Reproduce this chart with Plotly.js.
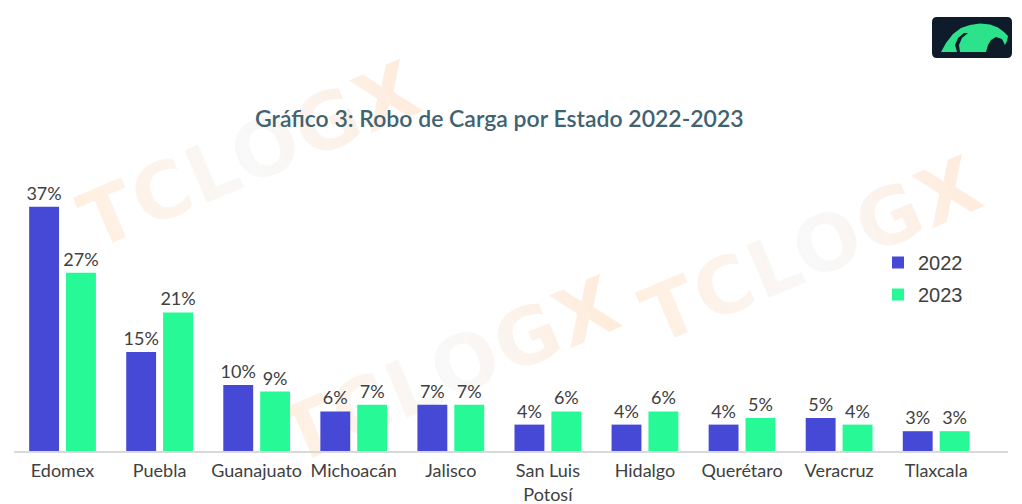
<!DOCTYPE html>
<html>
<head>
<meta charset="utf-8">
<script src="https://cdn.plot.ly/plotly-3.0.1.min.js"></script>
<style>
html,body{margin:0;padding:0;background:#fff;}
#wrap{position:relative;width:1022px;height:504px;overflow:hidden;}
#chart{position:absolute;left:0;top:0;width:1022px;height:504px;}
.wm{position:absolute;font-family:"DejaVu Sans",sans-serif;font-weight:bold;font-size:78px;letter-spacing:2px;
    transform-origin:center center;white-space:nowrap;
    background:linear-gradient(90deg, rgba(255,175,100,0.20), rgba(215,215,215,0.16) 50%, rgba(255,165,90,0.22));
    -webkit-background-clip:text;background-clip:text;-webkit-text-fill-color:transparent;}
</style>
</head>
<body>
<div id="wrap">
<div class="wm" id="wm1">TCLOGX</div>
<div class="wm" id="wm2">TCLOGX</div>
<div class="wm" id="wm3">TCLOGX</div>
<div id="chart"></div>
</div>
<script>
const states = ['Edomex','Puebla','Guanajuato','Michoacán','Jalisco','San Luis<br>Potosí','Hidalgo','Querétaro','Veracruz','Tlaxcala'];
const v2022 = [37,15,10,6,7,4,4,4,5,3];
const v2023 = [27,21,9,7,7,6,6,5,4,3];
const seriesNames = ['2022','2023'];
const titleText = 'Gráfico 3: Robo de Carga por Estado 2022-2023';

const W = 1022, H = 504;
const L = 14, R = 1008, T = 160, B = 451;
const px = x => (x - L) / (R - L);
const py = y => (B - y) / (B - T);
const pathFrom = pts => pts.map((p, i) => (i ? 'L' : 'M') + px(p[0]).toFixed(5) + ',' + py(p[1]).toFixed(5)).join(' ') + ' Z';

// watermark placement (decorative background text)
[['wm1', 250, 155], ['wm2', 450, 370], ['wm3', 812, 250]].forEach(([id, cx, cy]) => {
  const el = document.getElementById(id);
  const w = el.offsetWidth, h = el.offsetHeight;
  el.style.left = (cx - w / 2) + 'px';
  el.style.top = (cy - h / 2) + 'px';
  el.style.transform = 'rotate(-23deg)';
});

const blue = '#4549D6', green = '#26F996', txt = '#404040';
const labelFont = {family: 'Lato, "Open Sans", sans-serif', size: 18, color: txt};

const traces = [
  {type: 'bar', name: seriesNames[0], x: states, y: v2022, marker: {color: blue},
   texttemplate: '%{y}%', textposition: 'outside', textfont: labelFont, cliponaxis: false, constraintext: 'none',
   legendgroup: 'a', hoverinfo: 'skip'},
  {type: 'bar', name: seriesNames[1], x: states, y: v2023, marker: {color: green},
   texttemplate: '%{y}%', textposition: 'outside', textfont: labelFont, cliponaxis: false, constraintext: 'none',
   legendgroup: 'b', hoverinfo: 'skip'}
];

const annotations = [
  {text: titleText, xref: 'paper', yref: 'paper', x: px(499), y: py(118), xanchor: 'center', yanchor: 'middle',
   showarrow: false, font: {family: 'Lato, sans-serif', size: 23, color: '#3F6370', weight: 600}}
];

const r = 5, x0 = 932, x1 = 1012, y0 = 17, y1 = 58;
const logoRect = 'M' + px(x0 + r) + ',' + py(y0) + ' L' + px(x1 - r) + ',' + py(y0) +
  ' Q' + px(x1) + ',' + py(y0) + ' ' + px(x1) + ',' + py(y0 + r) +
  ' L' + px(x1) + ',' + py(y1 - r) + ' Q' + px(x1) + ',' + py(y1) + ' ' + px(x1 - r) + ',' + py(y1) +
  ' L' + px(x0 + r) + ',' + py(y1) + ' Q' + px(x0) + ',' + py(y1) + ' ' + px(x0) + ',' + py(y1 - r) +
  ' L' + px(x0) + ',' + py(y0 + r) + ' Q' + px(x0) + ',' + py(y0) + ' ' + px(x0 + r) + ',' + py(y0) + ' Z';
const eagle = pathFrom([[941,52],[946,43],[953,34],[961,28],[970,25],[980,23.5],[990,24.5],[998,27.5],[1004,32],[1008,36],[1007,41],[1005,45],[1002,39],[996,37],[991,40],[988,45],[986,52]]);
const eagleCut = pathFrom([[964,33],[958,38],[955,45],[957,52],[960,52],[959,45],[962,38],[968,33]]);

const shapes = [
  {type: 'path', xref: 'paper', yref: 'paper', path: logoRect, fillcolor: '#0E1B2B', line: {width: 0}},
  {type: 'path', xref: 'paper', yref: 'paper', path: eagle, fillcolor: '#2CE38C', line: {width: 0}},
  {type: 'path', xref: 'paper', yref: 'paper', path: eagleCut, fillcolor: '#0E1B2B', line: {width: 0}}
];

const layout = {
  width: W, height: H,
  margin: {l: L, r: W - R, t: T, b: H - B, pad: 0},
  paper_bgcolor: 'rgba(0,0,0,0)', plot_bgcolor: 'rgba(0,0,0,0)',
  barmode: 'group', bargap: 0.24, bargroupgap: 0.19,
  showlegend: true,
  legend: {x: px(878), y: py(243), xanchor: 'left', yanchor: 'top', bgcolor: 'rgba(0,0,0,0)',
           font: {family: '"Liberation Sans", Arial, sans-serif', size: 20, color: txt},
           traceorder: 'grouped', tracegroupgap: 3},
  xaxis: {type: 'category', range: [-0.5, 9.74], showgrid: false, zeroline: false,
          showline: true, linecolor: '#D9D9D9', linewidth: 1.5, ticks: '', tickfont: labelFont,
          ticklabelstandoff: 3, fixedrange: true},
  yaxis: {range: [0, 44.1], visible: false, showgrid: false, zeroline: false, fixedrange: true},
  annotations: annotations,
  shapes: shapes,
  font: {family: 'Lato, sans-serif'}
};

Plotly.newPlot('chart', traces, layout, {displayModeBar: false, staticPlot: true});
</script>
</body>
</html>
